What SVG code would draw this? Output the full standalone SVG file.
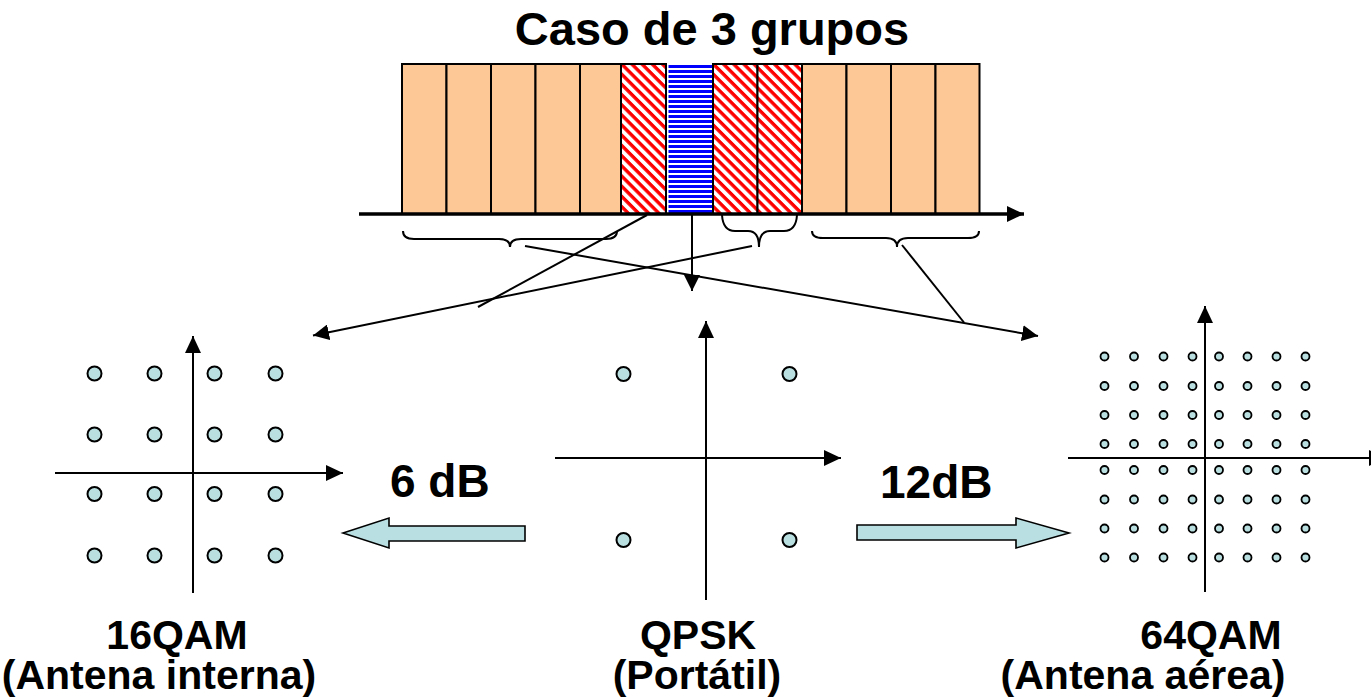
<svg xmlns="http://www.w3.org/2000/svg" width="1371" height="697" viewBox="0 0 1371 697">
  <style>
    text { font-family: "Liberation Sans", Arial, sans-serif; font-weight: bold; fill: #000; }
    .title { font-size: 47px; }
    .gain { font-size: 46px; }
    .lbl { font-size: 41px; text-anchor: middle; }
    .cell { stroke: #000; stroke-width: 2; }
    .orange { fill: #FDC896; }
    .ln { stroke: #000; stroke-width: 2; fill: none; }
    .brace { stroke: #000; stroke-width: 2; fill: none; }
    .dot { fill: #BADFE0; stroke: #000; stroke-width: 2; }
    .dot64 { fill: #BADFE0; stroke: #000; stroke-width: 1.8; }
    .block { fill: #BADFE2; stroke: #000; stroke-width: 1.6; }
  </style>
  <defs>
    <pattern id="redDiag" patternUnits="userSpaceOnUse" width="10" height="7.2" patternTransform="rotate(45)">
      <rect width="10" height="7.2" fill="#fff"/>
      <rect width="10" height="3.4" fill="#FF0000"/>
    </pattern>
    <pattern id="blueHoriz" patternUnits="userSpaceOnUse" width="10" height="5">
      <rect width="10" height="5" fill="#fff"/>
      <rect width="10" height="3" fill="#0000FF"/>
    </pattern>
    <marker id="ah" markerUnits="userSpaceOnUse" markerWidth="17" markerHeight="16" refX="16" refY="8" orient="auto">
      <path d="M0,0 L16,8 L0,16 Z" fill="#000"/>
    </marker>
    <marker id="ahAxis" markerUnits="userSpaceOnUse" markerWidth="18" markerHeight="16" refX="17" refY="8" orient="auto">
      <path d="M0,0 L17,8 L0,16 Z" fill="#000"/>
    </marker>
  </defs>

  <g id="title">
    <text class="title" x="712" y="45" text-anchor="middle">Caso de 3 grupos</text>
  </g>

  <!-- spectrum of segments on the frequency axis -->
  <g id="segments">
    <rect class="cell orange" x="402" y="64" width="44.5" height="150"/>
    <rect class="cell orange" x="446.5" y="64" width="44.5" height="150"/>
    <rect class="cell orange" x="491" y="64" width="44.5" height="150"/>
    <rect class="cell orange" x="535.5" y="64" width="44.5" height="150"/>
    <rect class="cell orange" x="580" y="64" width="41" height="150"/>
    <rect class="cell" x="621" y="64" width="45" height="150" fill="url(#redDiag)"/>
    <rect x="668.5" y="63" width="44.5" height="151" fill="url(#blueHoriz)"/>
    <rect class="cell" x="713" y="64" width="44.5" height="150" fill="url(#redDiag)"/>
    <rect class="cell" x="757.5" y="64" width="44.5" height="150" fill="url(#redDiag)"/>
    <rect class="cell orange" x="802" y="64" width="44.5" height="150"/>
    <rect class="cell orange" x="846.5" y="64" width="44.5" height="150"/>
    <rect class="cell orange" x="891" y="64" width="44.5" height="150"/>
    <rect class="cell orange" x="935.5" y="64" width="44" height="150"/>
  </g>

  <g id="freq-axis">
    <line x1="359" y1="214" x2="1024" y2="214" stroke="#000" stroke-width="3.5" marker-end="url(#ahAxis)"/>
  </g>

  <g id="braces">
    <path class="brace" d="M403,231 Q403,239 414,239 L499,239 Q510,239 510,247 Q510,239 521,239 L606,239 Q617,239 617,231"/>
    <path class="brace" d="M722,215 Q723,231 735,231 L748,231 Q759,231 759,247 Q759,231 770,231 L784,231 Q796,231 797,215"/>
    <path class="brace" d="M812,231 Q812,238 823,238 L886,238 Q897,238 897,247 Q897,238 908,238 L968,238 Q979,238 979,231"/>
  </g>

  <g id="connectors">
    <line class="ln" x1="647" y1="215" x2="478" y2="307"/>
    <line class="ln" x1="752" y1="246" x2="313" y2="335.5" marker-end="url(#ah)"/>
    <line class="ln" x1="525" y1="246" x2="1038" y2="336" marker-end="url(#ah)"/>
    <line class="ln" x1="902" y1="245" x2="964" y2="322.5"/>
    <line class="ln" x1="692" y1="215" x2="692" y2="291" marker-end="url(#ah)"/>
  </g>

  <!-- 16QAM constellation -->
  <g id="qam16">
    <line class="ln" x1="193" y1="593" x2="193" y2="336" marker-end="url(#ahAxis)"/>
    <line class="ln" x1="55" y1="473" x2="343" y2="473" marker-end="url(#ahAxis)"/>
    <g>
      <circle class="dot" cx="94.5" cy="373.5" r="7"/><circle class="dot" cx="154.5" cy="373.5" r="7"/><circle class="dot" cx="214.5" cy="373.5" r="7"/><circle class="dot" cx="275.5" cy="373.5" r="7"/>
      <circle class="dot" cx="94.5" cy="434.5" r="7"/><circle class="dot" cx="154.5" cy="434.5" r="7"/><circle class="dot" cx="214.5" cy="434.5" r="7"/><circle class="dot" cx="275.5" cy="434.5" r="7"/>
      <circle class="dot" cx="94.5" cy="494" r="7"/><circle class="dot" cx="154.5" cy="494" r="7"/><circle class="dot" cx="214.5" cy="494" r="7"/><circle class="dot" cx="275.5" cy="494" r="7"/>
      <circle class="dot" cx="94.5" cy="555.5" r="7"/><circle class="dot" cx="154.5" cy="555.5" r="7"/><circle class="dot" cx="214.5" cy="555.5" r="7"/><circle class="dot" cx="275.5" cy="555.5" r="7"/>
    </g>
    <text class="lbl" x="177" y="649">16QAM</text>
    <text class="lbl" x="159" y="689">(Antena interna)</text>
  </g>

  <!-- QPSK constellation -->
  <g id="qpsk">
    <line class="ln" x1="706" y1="600" x2="706" y2="321" marker-end="url(#ahAxis)"/>
    <line class="ln" x1="555" y1="458" x2="841" y2="458" marker-end="url(#ahAxis)"/>
    <circle class="dot" cx="623.5" cy="374" r="7"/>
    <circle class="dot" cx="789.5" cy="374" r="7"/>
    <circle class="dot" cx="623.5" cy="540" r="7"/>
    <circle class="dot" cx="789.5" cy="540" r="7"/>
    <text class="lbl" x="698" y="649">QPSK</text>
    <text class="lbl" x="697" y="689">(Portátil)</text>
  </g>

  <!-- 64QAM constellation -->
  <g id="qam64">
    <line class="ln" x1="1205" y1="592" x2="1205" y2="306" marker-end="url(#ahAxis)"/>
    <line class="ln" x1="1068" y1="458" x2="1386" y2="458" marker-end="url(#ahAxis)"/>
    <g id="qam64-points">
      <g transform="translate(0,356.5)">
        <circle class="dot64" cx="1104.5" cy="0" r="4"/><circle class="dot64" cx="1134" cy="0" r="4"/><circle class="dot64" cx="1163.5" cy="0" r="4"/><circle class="dot64" cx="1192.5" cy="0" r="4"/><circle class="dot64" cx="1219" cy="0" r="4"/><circle class="dot64" cx="1247.5" cy="0" r="4"/><circle class="dot64" cx="1276.5" cy="0" r="4"/><circle class="dot64" cx="1305.5" cy="0" r="4"/>
      </g>
      <g transform="translate(0,386)">
        <circle class="dot64" cx="1104.5" cy="0" r="4"/><circle class="dot64" cx="1134" cy="0" r="4"/><circle class="dot64" cx="1163.5" cy="0" r="4"/><circle class="dot64" cx="1192.5" cy="0" r="4"/><circle class="dot64" cx="1219" cy="0" r="4"/><circle class="dot64" cx="1247.5" cy="0" r="4"/><circle class="dot64" cx="1276.5" cy="0" r="4"/><circle class="dot64" cx="1305.5" cy="0" r="4"/>
      </g>
      <g transform="translate(0,415)">
        <circle class="dot64" cx="1104.5" cy="0" r="4"/><circle class="dot64" cx="1134" cy="0" r="4"/><circle class="dot64" cx="1163.5" cy="0" r="4"/><circle class="dot64" cx="1192.5" cy="0" r="4"/><circle class="dot64" cx="1219" cy="0" r="4"/><circle class="dot64" cx="1247.5" cy="0" r="4"/><circle class="dot64" cx="1276.5" cy="0" r="4"/><circle class="dot64" cx="1305.5" cy="0" r="4"/>
      </g>
      <g transform="translate(0,444)">
        <circle class="dot64" cx="1104.5" cy="0" r="4"/><circle class="dot64" cx="1134" cy="0" r="4"/><circle class="dot64" cx="1163.5" cy="0" r="4"/><circle class="dot64" cx="1192.5" cy="0" r="4"/><circle class="dot64" cx="1219" cy="0" r="4"/><circle class="dot64" cx="1247.5" cy="0" r="4"/><circle class="dot64" cx="1276.5" cy="0" r="4"/><circle class="dot64" cx="1305.5" cy="0" r="4"/>
      </g>
      <g transform="translate(0,470)">
        <circle class="dot64" cx="1104.5" cy="0" r="4"/><circle class="dot64" cx="1134" cy="0" r="4"/><circle class="dot64" cx="1163.5" cy="0" r="4"/><circle class="dot64" cx="1192.5" cy="0" r="4"/><circle class="dot64" cx="1219" cy="0" r="4"/><circle class="dot64" cx="1247.5" cy="0" r="4"/><circle class="dot64" cx="1276.5" cy="0" r="4"/><circle class="dot64" cx="1305.5" cy="0" r="4"/>
      </g>
      <g transform="translate(0,499.5)">
        <circle class="dot64" cx="1104.5" cy="0" r="4"/><circle class="dot64" cx="1134" cy="0" r="4"/><circle class="dot64" cx="1163.5" cy="0" r="4"/><circle class="dot64" cx="1192.5" cy="0" r="4"/><circle class="dot64" cx="1219" cy="0" r="4"/><circle class="dot64" cx="1247.5" cy="0" r="4"/><circle class="dot64" cx="1276.5" cy="0" r="4"/><circle class="dot64" cx="1305.5" cy="0" r="4"/>
      </g>
      <g transform="translate(0,528.5)">
        <circle class="dot64" cx="1104.5" cy="0" r="4"/><circle class="dot64" cx="1134" cy="0" r="4"/><circle class="dot64" cx="1163.5" cy="0" r="4"/><circle class="dot64" cx="1192.5" cy="0" r="4"/><circle class="dot64" cx="1219" cy="0" r="4"/><circle class="dot64" cx="1247.5" cy="0" r="4"/><circle class="dot64" cx="1276.5" cy="0" r="4"/><circle class="dot64" cx="1305.5" cy="0" r="4"/>
      </g>
      <g transform="translate(0,557.5)">
        <circle class="dot64" cx="1104.5" cy="0" r="4"/><circle class="dot64" cx="1134" cy="0" r="4"/><circle class="dot64" cx="1163.5" cy="0" r="4"/><circle class="dot64" cx="1192.5" cy="0" r="4"/><circle class="dot64" cx="1219" cy="0" r="4"/><circle class="dot64" cx="1247.5" cy="0" r="4"/><circle class="dot64" cx="1276.5" cy="0" r="4"/><circle class="dot64" cx="1305.5" cy="0" r="4"/>
      </g>
    </g>
    <text class="lbl" x="1211" y="649">64QAM</text>
    <text class="lbl" x="1143" y="689">(Antena aérea)</text>
  </g>

  <!-- margin arrows between constellations -->
  <g id="gain-6db">
    <polygon class="block" points="343,533 389,518 389,526 525,526 525,541 389,541 389,548"/>
    <text class="gain" x="390" y="497">6 dB</text>
  </g>
  <g id="gain-12db">
    <polygon class="block" points="857,525 1016,525 1016,518 1069,533 1016,548 1016,540 857,540"/>
    <text class="gain" x="880" y="498">12dB</text>
  </g>
</svg>
